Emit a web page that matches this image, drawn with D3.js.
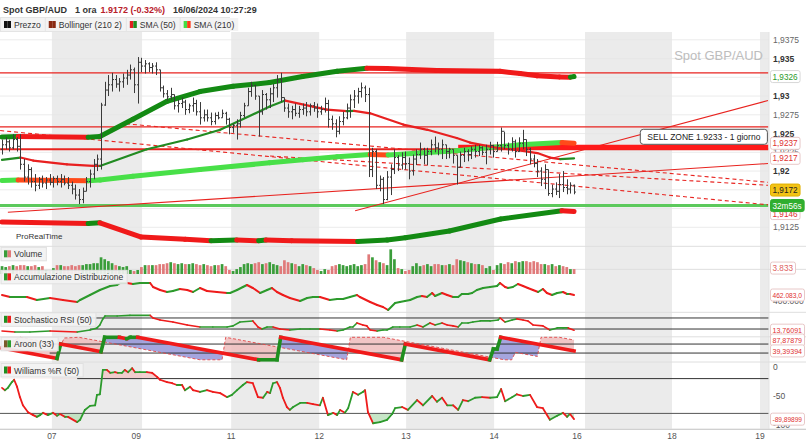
<!DOCTYPE html>
<html><head><meta charset="utf-8">
<script src="https://cdn.jsdelivr.net/npm/d3@7"></script>
<style>body{margin:0;background:#fff}svg{display:block}</style>
</head><body><svg id="c" width="806" height="444"></svg>
<script>
// ---------------- DATA ----------------
const dayLabels = ["07","09","11","12","13","14","16","18","19"];
const dayPos = [13.6,36.6,62.5,86.5,110.2,134.2,156.8,182.7,206.7];
const shadedDays = [[13.6,38.2],[62.5,86.5],[110.2,134.2],[159,182.7],[206.7,209]];
const priceTicks = [1.9125,1.915,1.9175,1.92,1.9225,1.925,1.9275,1.93,1.9325,1.935,1.9375];

const open = [1.9229,1.9235,1.9239,1.9231,1.9242,1.9233,1.9209,1.9192,1.9202,1.9186,
1.9181,1.9189,1.9184,1.9188,1.9185,1.9190,1.9186,1.9189,1.9184,1.9181,
1.9176,1.9168,1.9162,1.9173,1.9186,1.9196,1.9209,1.9216,1.9288,1.9308,
1.9315,1.9322,1.9316,1.9319,1.9324,1.9328,1.9335,1.9315,1.9345,1.9340,
1.9343,1.9338,1.9340,1.9335,1.9311,1.9303,1.9299,1.9302,1.9287,1.9290,
1.9292,1.9282,1.9287,1.9290,1.9279,1.9271,1.9275,1.9271,1.9266,1.9274,
1.9271,1.9277,1.9269,1.9258,1.9261,1.9263,1.9274,1.9287,1.9306,1.9314,
1.9300,1.9279,1.9302,1.9295,1.9303,1.9311,1.9322,1.9298,1.9284,1.9279,
1.9282,1.9277,1.9282,1.9284,1.9279,1.9287,1.9284,1.9279,1.9282,1.9290,
1.9269,1.9263,1.9253,1.9266,1.9271,1.9284,1.9295,1.9300,1.9306,1.9311,
1.9302,1.9202,1.9226,1.9181,1.9189,1.9162,1.9192,1.9202,1.9218,1.9208,
1.9218,1.9210,1.9200,1.9216,1.9222,1.9229,1.9221,1.9226,1.9235,1.9231,
1.9229,1.9235,1.9226,1.9229,1.9221,1.9205,1.9221,1.9226,1.9222,1.9229,
1.9226,1.9231,1.9225,1.9229,1.9234,1.9226,1.9234,1.9253,1.9234,1.9229,
1.9239,1.9226,1.9237,1.9242,1.9229,1.9216,1.9210,1.9200,1.9189,1.9202,
1.9170,1.9176,1.9173,1.9182,1.9178,1.9176,1.9181];
const high = [1.9242,1.9245,1.9242,1.9249,1.9245,1.9249,1.9216,1.9209,1.9205,1.9196,
1.9192,1.9194,1.9192,1.9196,1.9193,1.9194,1.9196,1.9194,1.9192,1.9186,
1.9182,1.9176,1.9178,1.9192,1.9202,1.9216,1.9222,1.9291,1.9319,1.9328,
1.9331,1.9328,1.9324,1.9330,1.9335,1.9342,1.9338,1.9352,1.9351,1.9348,
1.9345,1.9344,1.9345,1.9335,1.9314,1.9308,1.9311,1.9302,1.9295,1.9298,
1.9295,1.9290,1.9298,1.9295,1.9292,1.9282,1.9282,1.9278,1.9278,1.9279,
1.9282,1.9279,1.9271,1.9263,1.9269,1.9279,1.9291,1.9311,1.9319,1.9315,
1.9300,1.9308,1.9304,1.9311,1.9316,1.9328,1.9331,1.9298,1.9290,1.9287,
1.9290,1.9287,1.9290,1.9292,1.9290,1.9292,1.9290,1.9287,1.9298,1.9295,
1.9274,1.9269,1.9273,1.9279,1.9290,1.9302,1.9308,1.9311,1.9318,1.9314,
1.9311,1.9231,1.9229,1.9194,1.9192,1.9200,1.9209,1.9229,1.9221,1.9225,
1.9226,1.9218,1.9222,1.9229,1.9238,1.9231,1.9231,1.9242,1.9246,1.9238,
1.9242,1.9235,1.9231,1.9229,1.9221,1.9226,1.9231,1.9229,1.9233,1.9235,
1.9235,1.9233,1.9235,1.9239,1.9235,1.9239,1.9258,1.9252,1.9238,1.9245,
1.9242,1.9245,1.9255,1.9242,1.9231,1.9222,1.9216,1.9205,1.9209,1.9202,
1.9182,1.9185,1.9196,1.9200,1.9189,1.9185,1.9182];
const low = [1.9222,1.9229,1.9226,1.9229,1.9226,1.9202,1.9186,1.9182,1.9178,1.9173,
1.9176,1.9178,1.9176,1.9181,1.9178,1.9181,1.9178,1.9181,1.9176,1.9169,
1.9162,1.9156,1.9157,1.9173,1.9178,1.9189,1.9200,1.9202,1.9287,1.9300,
1.9306,1.9311,1.9306,1.9311,1.9315,1.9322,1.9304,1.9290,1.9332,1.9330,
1.9332,1.9330,1.9328,1.9306,1.9298,1.9294,1.9295,1.9282,1.9278,1.9284,
1.9275,1.9277,1.9279,1.9274,1.9262,1.9266,1.9266,1.9261,1.9262,1.9269,
1.9271,1.9262,1.9249,1.9251,1.9242,1.9258,1.9271,1.9287,1.9299,1.9295,
1.9246,1.9275,1.9282,1.9284,1.9292,1.9298,1.9292,1.9279,1.9271,1.9269,
1.9273,1.9271,1.9275,1.9273,1.9274,1.9279,1.9271,1.9275,1.9278,1.9258,
1.9255,1.9245,1.9249,1.9261,1.9269,1.9271,1.9284,1.9290,1.9298,1.9292,
1.9192,1.9192,1.9176,1.9173,1.9156,1.9161,1.9168,1.9196,1.9200,1.9202,
1.9202,1.9189,1.9194,1.9208,1.9216,1.9209,1.9208,1.9221,1.9225,1.9221,
1.9216,1.9216,1.9217,1.9210,1.9182,1.9205,1.9212,1.9213,1.9216,1.9218,
1.9220,1.9221,1.9209,1.9222,1.9218,1.9226,1.9226,1.9229,1.9222,1.9226,
1.9218,1.9226,1.9229,1.9220,1.9209,1.9205,1.9192,1.9180,1.9176,1.9167,
1.9165,1.9168,1.9164,1.9172,1.9169,1.9170,1.9169];
const close = [1.9235,1.9239,1.9231,1.9242,1.9233,1.9209,1.9192,1.9202,1.9186,1.9181,
1.9189,1.9184,1.9188,1.9185,1.9190,1.9186,1.9189,1.9184,1.9181,1.9176,
1.9168,1.9162,1.9173,1.9186,1.9196,1.9209,1.9216,1.9288,1.9308,1.9315,
1.9322,1.9316,1.9319,1.9324,1.9328,1.9335,1.9315,1.9345,1.9340,1.9343,
1.9338,1.9340,1.9335,1.9311,1.9303,1.9299,1.9302,1.9287,1.9290,1.9292,
1.9282,1.9287,1.9290,1.9279,1.9271,1.9275,1.9271,1.9266,1.9274,1.9271,
1.9277,1.9269,1.9258,1.9261,1.9263,1.9274,1.9287,1.9306,1.9314,1.9300,
1.9279,1.9302,1.9295,1.9303,1.9311,1.9322,1.9298,1.9284,1.9279,1.9282,
1.9277,1.9282,1.9284,1.9279,1.9287,1.9284,1.9279,1.9282,1.9290,1.9269,
1.9263,1.9253,1.9266,1.9271,1.9284,1.9295,1.9300,1.9306,1.9311,1.9302,
1.9202,1.9226,1.9181,1.9189,1.9162,1.9192,1.9202,1.9218,1.9208,1.9218,
1.9210,1.9200,1.9216,1.9222,1.9229,1.9221,1.9226,1.9235,1.9231,1.9229,
1.9235,1.9226,1.9229,1.9221,1.9205,1.9221,1.9226,1.9222,1.9229,1.9226,
1.9231,1.9225,1.9229,1.9234,1.9226,1.9234,1.9253,1.9234,1.9229,1.9239,
1.9226,1.9237,1.9242,1.9229,1.9216,1.9210,1.9200,1.9189,1.9202,1.9170,
1.9176,1.9173,1.9182,1.9178,1.9176,1.9181,1.9172];

const volume = [6100,5400,6100,6900,6100,6900,6900,6100,6100,6900,5400,6100,
3100,2300,4600,6900,6900,6100,6100,6900,6100,6900,6900,7700,7700,8400,8400,
13000,11500,10000,8400,6900,6100,5400,6100,3100,2300,3100,5400,6900,6900,6900,
6900,7700,7700,8400,9200,8400,7700,8400,7700,7700,8400,7700,6900,7700,6900,6100,6900,6900,7700,
6100,3100,2300,3800,5400,7700,8400,7700,8400,9200,7700,8400,9200,7700,6900,6100,
10700,9200,8400,7700,6100,7700,6900,6100,4600,3100,2300,3800,3100,
6100,6900,7700,6900,6100,6900,7700,6100,6900,7700,
15300,13000,10700,9200,8400,6900,19200,11500,4600,3800,2300,3100,
6100,8400,6100,6900,7700,6100,7700,7700,6900,6900,7700,
6900,11500,10700,10000,9200,8400,7700,7700,6900,4600,6100,3100,
6900,8400,7700,9200,8400,10000,9200,10000,10000,9200,10000,9200,7700,
7700,6900,7700,6100,6900,6100,5400,3800,3833];

// indicator knots [bar index, value]
const bbUpper = [[0,1.92455],[4.4,1.9246],[23.5,1.9245],[26.7,1.9246],[35.7,1.9269],[45,1.9293],[54,1.9306],[63,1.9313],[73,1.9318],[82,1.9326],[91.4,1.9333],[99.5,1.9337],[105,1.93368],[118.6,1.9334],[135.8,1.9333],[141.3,1.9330],[146,1.9327],[152,1.93255],[155,1.93252],[156,1.9326]];
const bbLower = [[0,1.9132],[23.5,1.9130],[26.7,1.9131],[38,1.9112],[50,1.9109],[57,1.9107],[64,1.9108],[70,1.9107],[72,1.9108],[79,1.9107],[97,1.9106],[105,1.9108],[110,1.9111],[122,1.9120],[136,1.9136],[152.7,1.9147],[156,1.9146]];
const sma210 = [[0,1.91875],[4.4,1.9188],[23.5,1.9187],[26.7,1.9188],[35.7,1.9193],[54,1.9202],[73,1.9211],[82,1.9215],[91.4,1.9219],[100.4,1.9222],[105.3,1.92215],[114,1.9224],[124,1.9227],[132.3,1.9231],[141.3,1.9235],[152.7,1.9238],[156,1.9237]];
const sma50 = [[0,1.9215],[5,1.9218],[8.5,1.9214],[17.7,1.9209],[24.8,1.9207],[26.7,1.92068],[39.5,1.9229],[50.5,1.9242],[59.5,1.9255],[73,1.9286],[77.2,1.9294],[84.8,1.9286],[88.6,1.9282],[94,1.9280],[96,1.92802],[100.4,1.9277],[109.4,1.9262],[116,1.9255],[124,1.9244],[127.6,1.9238],[135,1.9231],[142,1.9227],[146,1.9224],[149.4,1.9218],[152.2,1.9216],[156,1.9217]];

const redLevels = [1.9331,1.9259,1.9229];
const greenLevel = 1.9154;
const sellZone = {price:1.9233, from:124.4, label:"SELL ZONE 1.9233 - 1 giorno"};
const trendSolid = [[1.6,1.9145,208.9,1.9210],[96.3,1.9147,208.9,1.9294]];
const trendDashed = [[33.8,1.9263,208.9,1.9185],[-0.5,1.9254,208.9,1.9155],[73.1,1.9220,208.9,1.9181]];

const adLine = [[0,462100],[2.2,440300],[6.8,440300],[9.5,407600],[13.1,429400],[16.6,407600],[20.5,385800],[21.3,407600],[24,462100],[26.7,516600],[29.5,560200],[31.4,571100],[32.2,592900],[34.1,592900],[35.7,582000],[37.6,592900],[40.4,592900],[41.2,549300],[43.1,516600],[45,494800],[46.6,505700],[48.5,527500],[50.5,516600],[52.1,494800],[54,538400],[55.9,505700],[58.6,494800],[61.4,483900],[62.2,483900],[64.1,516600],[65.7,549300],[66.8,571100],[68.4,538400],[70.4,483900],[72.3,516600],[73.6,538400],[75,494800],[76.6,462100],[78.5,429400],[81.3,396700],[83.2,429400],[84.8,440300],[86.7,440300],[89.4,407600],[91.4,418500],[93,418500],[94.9,440300],[96.8,462100],[97.6,440300],[100.4,385800],[102.3,353100],[103.9,331300],[105.3,298600],[107.2,374900],[108.5,385800],[109.9,396700],[111.3,407600],[113.2,440300],[114.5,451200],[115.9,440300],[117.3,483900],[118.1,451200],[120,483900],[121.4,462100],[123,440300],[124.4,440300],[125.4,473000],[127.1,473000],[128.2,483900],[129.5,516600],[131.2,538400],[133.1,549300],[135,560200],[135.8,592900],[137.2,549300],[138,538400],[139.3,549300],[140.7,582000],[142.1,560200],[143.4,538400],[144.8,516600],[146.2,494800],[147.5,527500],[148.6,483900],[150,462100],[151.4,483900],[153,494800],[154.1,473000],[154.9,473000],[156,462083]];
const stochRsi = [[0,9],[3.5,4],[7.6,4],[13.1,9],[20.5,4],[24,15],[25.9,26],[26.7,42],[27.5,75],[28.1,91],[31.4,91],[34.9,94],[40.4,94],[41.2,80],[43.1,69],[46.6,58],[50.5,42],[54,31],[57.5,31],[61.4,31],[63,37],[64.9,58],[68.4,64],[69.8,31],[70.9,20],[72.3,31],[73.9,31],[75.8,20],[78.5,15],[81.3,20],[84,20],[86.7,20],[89.4,15],[91.4,9],[93,15],[94.9,31],[95.7,31],[96.8,53],[98.4,42],[99.5,37],[100.4,15],[102.3,9],[103.9,15],[105,15],[106.6,31],[108.5,31],[111.3,31],[113.2,42],[114.8,31],[116.7,53],[118.1,42],[120,53],[121.4,42],[123,37],[124.4,31],[125.4,53],[127.1,53],[128.4,58],[130.4,64],[133.1,64],[135.3,69],[135.8,80],[137.2,58],[139.1,69],[140.4,75],[142.1,69],[143.4,64],[144.8,42],[147.5,37],[149.4,15],[151.4,26],[153,26],[154.4,26],[156,13.76091]];
const aroonUp = [[0,52],[15,6],[16,70],[27,36],[28,100],[32,100],[34,94],[35,100],[37,100],[70,0],[75,0],[76,100],[109,0],[110,70],[133,0],[134,48],[135,48],[136,100],[156,39.39394]];
const aroonDown = [[0,60],[5,100],[15,70],[16,64],[17,97],[21,100],[54,0],[60,0],[61,100],[94,0],[95,100],[104,100],[137,0],[139,0],[140,33],[146,15],[147,100],[152,100],[156,87.87879]];
const williams = [[0,-36],[0.8,-40],[1.6,-36],[2.7,-26],[3.3,-22],[4.1,-34],[4.9,-52],[5.7,-66],[7.1,-78],[8.5,-83],[9.5,-86],[10.4,-83],[11.2,-79],[12.5,-83],[13.9,-79],[15,-84],[15.8,-81],[17.2,-86],[18,-86],[20.5,-95],[21.3,-91],[22.6,-74],[24,-67],[25.4,-66],[25.9,-48],[26.7,-47],[27.5,-5],[28.6,-5],[29.5,-10],[30.8,-9],[31.6,-10],[32.7,-10],[33.5,-5],[34.4,-9],[35.5,-2],[36.3,-9],[37.6,-9],[39.5,-9],[40.9,-10],[42.3,-17],[43.1,-22],[45,-26],[46.4,-28],[47.7,-31],[49.1,-31],[49.9,-40],[51.3,-34],[52.1,-40],[54,-43],[55.9,-40],[57.5,-43],[59.5,-45],[61.4,-52],[62.7,-48],[64.1,-40],[65.7,-31],[66.8,-26],[68.4,-28],[69.8,-52],[71.2,-53],[72.3,-43],[73.1,-45],[73.9,-28],[75,-26],[75.8,-36],[76.6,-53],[77.7,-69],[78.5,-74],[79.4,-69],[81.3,-62],[83.2,-62],[84.8,-64],[86.7,-66],[87.5,-53],[88.9,-83],[90.3,-79],[91.4,-83],[92.2,-74],[93.5,-79],[94.4,-71],[95.7,-43],[97.1,-48],[98.4,-43],[99,-40],[99.8,-78],[101.2,-97],[103.1,-95],[105,-91],[106.4,-81],[107.2,-71],[109.1,-69],[110.7,-74],[113.2,-57],[114.8,-66],[117.3,-50],[118.6,-60],[120,-53],[121.4,-66],[123,-66],[124.4,-74],[125.7,-57],[127.1,-59],[129,-53],[130.9,-52],[133.1,-53],[135,-52],[136.1,-38],[137.2,-59],[139.1,-52],[140.4,-47],[142.1,-50],[144,-48],[145.9,-69],[147.5,-71],[149.4,-91],[151.4,-84],[153,-79],[154.1,-86],[154.9,-81],[156,-89.89899]];

// ---------------- DRAW ----------------
const FONT = "Arial, 'Liberation Sans', Helvetica, sans-serif";
const svg = d3.select("#c").style("font-family", FONT);
const x = d3.scaleLinear().domain([0,209]).range([2,768.4]);
const XR = x(209);
const yP = d3.scaleLinear().domain([1.9125,1.9375]).range([227.3,39.8]);
const yV = d3.scaleLinear().domain([0,20000]).range([274,248.3]);
const yAD = d3.scaleLinear().domain([400000,462083]).range([300.7,295]);
const yS = d3.scaleLinear().domain([0,100]).range([332.7,314.3]);
const yA = d3.scaleLinear().domain([0,100]).range([359.8,337.3]);
const yW = d3.scaleLinear().domain([-100,0]).range([425,367]);

svg.append("rect").attr("width",806).attr("height",444).attr("fill","#fff");

// day shading
svg.append("g").selectAll("rect").data(shadedDays).join("rect")
  .attr("x",d=>x(d[0])).attr("width",d=>Math.min(x(d[1]),XR)-x(d[0]))
  .attr("y",32).attr("height",397).attr("fill","#ebebeb");

// price grid
svg.append("g").selectAll("line").data(priceTicks).join("line")
  .attr("x1",0).attr("x2",XR).attr("y1",d=>yP(d)).attr("y2",d=>yP(d))
  .attr("stroke","#e6e6e6").attr("stroke-width",0.8);

// panel separators
svg.append("g").selectAll("line").data([yV.range()[1]-2, yAD(600000)-13, yS(100)-2, yA(100)-0.5, yW(0)-5, yW(-100)+4]).join("line")
  .attr("x1",0).attr("x2",806).attr("y1",d=>d).attr("y2",d=>d).attr("stroke","#dedede");
svg.append("line").attr("x1",XR+0.5).attr("x2",XR+0.5).attr("y1",32).attr("y2",429).attr("stroke","#dcdcdc");

function segLine(g, pts, ys, w, up, dn, cap){
  for(let k=1;k<pts.length;k++){
    const a=pts[k-1], b=pts[k];
    g.append("line").attr("x1",x(a[0])).attr("y1",ys(a[1])).attr("x2",x(b[0])).attr("y2",ys(b[1]))
      .attr("stroke", b[1]>=a[1]?up:dn).attr("stroke-width",w).attr("stroke-linecap",cap||"round");
  }
}

// ---- main panel ----
svg.append("clipPath").attr("id","mainClip").append("rect").attr("x",0).attr("y",32).attr("width",XR).attr("height",214);
const gm = svg.append("g").attr("clip-path","url(#mainClip)");

redLevels.forEach((p,i)=>gm.append("line").attr("x1",0).attr("x2",XR).attr("y1",yP(p)).attr("y2",yP(p))
  .attr("stroke","#e8231f").attr("stroke-width",i===2?2:1.3));
gm.append("line").attr("x1",0).attr("x2",XR).attr("y1",yP(greenLevel)).attr("y2",yP(greenLevel))
  .attr("stroke","#5cc95c").attr("stroke-width",3);
trendSolid.forEach(t=>gm.append("line").attr("x1",x(t[0])).attr("y1",yP(t[1])).attr("x2",x(t[2])).attr("y2",yP(t[3]))
  .attr("stroke","#e8231f").attr("stroke-width",1.1));
trendDashed.forEach(t=>gm.append("line").attr("x1",x(t[0])).attr("y1",yP(t[1])).attr("x2",x(t[2])).attr("y2",yP(t[3]))
  .attr("stroke","#e8231f").attr("stroke-width",1.1).attr("stroke-dasharray","4,3"));

segLine(gm, bbUpper, yP, 5, "#138a13", "#f01a1a");
segLine(gm, bbLower, yP, 5, "#138a13", "#f01a1a");
gm.append("line").attr("x1",x(sellZone.from)).attr("x2",XR).attr("y1",yP(sellZone.price)+1).attr("y2",yP(sellZone.price)+1)
  .attr("stroke","#ff1a1a").attr("stroke-width",5);
segLine(gm, sma210, yP, 5, "#48e048", "#ff4a1a");
segLine(gm, sma50, yP, 2.2, "#228b22", "#e82020");

// OHLC bars
const bars = gm.append("g").attr("stroke","#3a3a3a").attr("stroke-width",1);
open.forEach((o,i)=>{
  const cx = Math.round(x(i))+0.5;
  bars.append("line").attr("x1",cx).attr("x2",cx).attr("y1",yP(high[i])).attr("y2",yP(low[i]));
  bars.append("line").attr("x1",cx-1.5).attr("x2",cx).attr("y1",yP(o)).attr("y2",yP(o));
  bars.append("line").attr("x1",cx).attr("x2",cx+1.5).attr("y1",yP(close[i])).attr("y2",yP(close[i]));
});

// sell zone label
const szG = svg.append("g");
const szR = szG.append("rect");
const szT = szG.append("text").attr("font-size",8.5).attr("fill","#222").text(sellZone.label);
const szW = szT.node().getComputedTextLength()+14;
const szY = yP(sellZone.price)-17;
szR.attr("x",XR-szW-1).attr("y",szY).attr("width",szW).attr("height",15).attr("rx",3).attr("fill","#fff").attr("stroke","#555");
szT.attr("x",XR-szW+6).attr("y",szY+10.5);

// watermark
svg.append("text").attr("x",763).attr("y",60).attr("text-anchor","end").attr("font-size",13).attr("fill","#bdbdbd").text("Spot GBP/AUD");
svg.append("text").attr("x",16).attr("y",239).attr("font-size",8).attr("fill","#333").text("ProRealTime");

// ---- volume ----
const gv = svg.append("g");
volume.forEach((v,i)=>{
  gv.append("rect").attr("x",x(i)-1.3).attr("width",2.7).attr("y",yV(v)).attr("height",yV(0)-yV(v))
    .attr("fill", close[i]>=open[i] ? "#3a9d3a" : "#e07a7a");
});

// ---- accumulation / distribution ----
segLine(svg.append("g"), adLine, yAD, 2, "#2c9a2c", "#ee1c1c");

// ---- stochastic RSI ----
[80,20].forEach(l=>svg.append("line").attr("x1",x(24)).attr("x2",XR).attr("y1",yS(l)).attr("y2",yS(l)).attr("stroke","#333").attr("stroke-width",1));
segLine(svg.append("g"), stochRsi, yS, 1.6, "#2c9a2c", "#ee1c1c");

// ---- Aroon ----
const ga = svg.append("g");
const upPts = aroonUp.map(d=>[x(d[0]),yA(d[1])]);
const dnPts = aroonDown.map(d=>[x(d[0]),yA(d[1])]);
const aTop = yA(100)-1, aBot = yA(0)+1;
const x0=x(0), xN=x(156);
const poly = pts => "M"+pts.map(p=>p.join(",")).join("L")+"Z";
const defs = svg.append("defs");
defs.append("clipPath").attr("id","belowDown").append("path").attr("d",poly([...dnPts,[xN,aBot+5],[x0,aBot+5]]));
defs.append("clipPath").attr("id","belowUp").append("path").attr("d",poly([...upPts,[xN,aBot+5],[x0,aBot+5]]));
ga.append("path").attr("d",poly([[x0,aTop-5],...upPts,[xN,aTop-5]])).attr("clip-path","url(#belowDown)").attr("fill","#eebcbc").attr("opacity",0.85);
ga.append("path").attr("d",poly([[x0,aTop-5],...dnPts,[xN,aTop-5]])).attr("clip-path","url(#belowUp)").attr("fill","#8f8fd6").attr("opacity",0.8);
[70,30].forEach(l=>ga.append("line").attr("x1",x(13)).attr("x2",XR).attr("y1",yA(l)).attr("y2",yA(l)).attr("stroke","#333").attr("stroke-width",1));
ga.append("path").attr("d",d3.line().x(d=>x(d[0])).y(d=>yA(d[1]))(aroonDown)).attr("fill","none")
  .attr("stroke","#e04848").attr("stroke-width",0.9).attr("stroke-dasharray","3,2");
segLine(ga, aroonUp, yA, 3.6, "#1f8f1f", "#f01a1a", "square");

// ---- Williams %R ----
const gw = svg.append("g");
defs.append("clipPath").attr("id","wrTop").append("rect").attr("x",0).attr("y",yW(0)-5).attr("width",XR).attr("height",yW(-20)-yW(0)+5);
defs.append("clipPath").attr("id","wrBot").append("rect").attr("x",0).attr("y",yW(-80)).attr("width",XR).attr("height",yW(-100)-yW(-80)+5);
gw.append("path").attr("d",d3.area().x(d=>x(d[0])).y0(yW(-20)).y1(d=>yW(d[1]))(williams)).attr("clip-path","url(#wrTop)").attr("fill","#f2c4c4").attr("opacity",0.8);
gw.append("path").attr("d",d3.area().x(d=>x(d[0])).y0(yW(-80)).y1(d=>yW(d[1]))(williams)).attr("clip-path","url(#wrBot)").attr("fill","#b9e0b9").attr("opacity",0.8);
gw.append("line").attr("x1",x(20.5)).attr("x2",XR).attr("y1",yW(-20)).attr("y2",yW(-20)).attr("stroke","#333");
gw.append("line").attr("x1",0).attr("x2",XR).attr("y1",yW(-80)).attr("y2",yW(-80)).attr("stroke","#555");
segLine(gw, williams, yW, 1.8, "#2c9a2c", "#ee1c1c");

// ---- x axis ----
svg.append("line").attr("x1",0).attr("x2",806).attr("y1",429.5).attr("y2",429.5).attr("stroke","#d0d0d0");
svg.append("g").selectAll("text").data(dayLabels).join("text")
  .attr("x",(d,i)=>x(dayPos[i])).attr("y",439).attr("text-anchor","middle").attr("font-size",8.5).attr("fill","#555").text(d=>d);

// ---- right axis ----
const badgeYs = [yP(bbUpper[bbUpper.length-1][1]), yP(close[close.length-1])-2, yP(greenLevel)];
const fmt = v => v.toFixed(4).replace(/0+$/,"").replace(".",",");
const isMajor = d => Math.abs(d*200-Math.round(d*200))<1e-6;
svg.append("g").selectAll("text").data(priceTicks.filter(t=>badgeYs.every(b=>Math.abs(yP(t)-b)>4))).join("text")
  .attr("x",773).attr("y",d=>yP(d)+3).attr("font-size",8.5)
  .attr("font-weight",d=>isMajor(d)?"bold":"normal")
  .attr("fill",d=>isMajor(d)?"#333":"#666").text(fmt);
[[0,"0"],[-50,"-50"],[-100,"-100"]].forEach(t=>svg.append("text").attr("x",773).attr("y",yW(t[0])+3).attr("font-size",8.5).attr("fill","#555").text(t[1]));
svg.append("text").attr("x",773).attr("y",yAD(400000)+3).attr("font-size",8.5).attr("fill","#555").text("400.000");

function badge(yc, txt, fg, bg, stroke){
  const g = svg.append("g");
  const r = g.append("rect");
  const t = g.append("text").attr("x",772.5).attr("y",yc+3).attr("font-size",8.2).attr("fill",fg).text(txt);
  let tw = t.node().getComputedTextLength();
  const maxW = 29.5;
  if (tw > maxW) { t.attr("font-size", 8.2*maxW/tw); tw = t.node().getComputedTextLength(); }
  r.attr("x",770.5).attr("y",yc-6).attr("width",Math.min(tw+4.5, 806-771)).attr("height",12).attr("rx",2).attr("fill",bg).attr("stroke",stroke);
}
const it = v => v.toFixed(4).replace(".",",");
badge(yP(bbUpper[bbUpper.length-1][1]), it(bbUpper[bbUpper.length-1][1]), "#2a9a2a", "#fff", "#d8d8d8");
badge(yP(sma210[sma210.length-1][1]), it(sma210[sma210.length-1][1]), "#e03030", "#fff", "#e8c8c8");
badge(yP(sma50[sma50.length-1][1]), it(sma50[sma50.length-1][1]), "#e03030", "#fff", "#e8c8c8");
badge(yP(bbLower[bbLower.length-1][1])+2, it(bbLower[bbLower.length-1][1]), "#e03030", "#fff", "#e8c8c8");
badge(yP(close[close.length-1])-2, it(close[close.length-1]), "#222", "#f3c316", "#e0b000");
badge(yP(greenLevel), "32m56s", "#fff", "#2fae2f", "#2fae2f");
badge(yV(volume[volume.length-1])-1, d3.format(",")(volume[volume.length-1]).replace(/,/g,"."), "#e06060", "#fff", "#e8c8c8");
badge(yAD(adLine[adLine.length-1][1]), "462.083,0", "#e03030", "#fff", "#e8c8c8");
badge(yS(stochRsi[stochRsi.length-1][1]), stochRsi[stochRsi.length-1][1].toFixed(5).replace(".",","), "#e03030", "#fff", "#e8c8c8");
badge(yA(aroonDown[aroonDown.length-1][1]), aroonDown[aroonDown.length-1][1].toFixed(5).replace(".",","), "#e03030", "#fff", "#e8c8c8");
badge(yA(aroonUp[aroonUp.length-1][1]), aroonUp[aroonUp.length-1][1].toFixed(5).replace(".",","), "#e03030", "#fff", "#e8c8c8");
badge(yW(williams[williams.length-1][1]), williams[williams.length-1][1].toFixed(5).replace(".",","), "#e03030", "#fff", "#e8c8c8");

// ---- header ----
const hd = svg.append("text").attr("x",3).attr("y",13).attr("font-size",9).attr("font-weight","bold").attr("fill","#333");
hd.append("tspan").text("Spot GBP/AUD");
hd.append("tspan").attr("dx",8).text("1 ora");
hd.append("tspan").attr("dx",4).attr("fill","#b8202a").text("1.9172 (-0.32%)");
hd.append("tspan").attr("dx",8).text("16/06/2024 10:27:29");

// legend strip
svg.append("rect").attr("x",0).attr("y",17).attr("width",230).attr("height",15).attr("fill","#e4e4e4");
const legendItems = [["Prezzo","#111","#111"],["Bollinger (210 2)","#8a2a12","#8a2a12"],["SMA (50)","#e02020","#1f8f1f"],["SMA (210)","#44dd44","#ff3a1a"]];
let lx = 1;
legendItems.forEach(it2=>{
  const g = svg.append("g");
  const r = g.append("rect").attr("y",18).attr("height",13).attr("fill","#f3f3f3");
  g.append("rect").attr("x",lx+3).attr("y",21).attr("width",3.5).attr("height",7).attr("fill",it2[1]);
  g.append("rect").attr("x",lx+6.5).attr("y",21).attr("width",3.5).attr("height",7).attr("fill",it2[2]);
  const t = g.append("text").attr("x",lx+13).attr("y",28).attr("font-size",8.6).attr("fill","#333").text(it2[0]);
  const w = t.node().getComputedTextLength()+17;
  r.attr("x",lx).attr("width",w);
  lx += w+1;
});

// panel labels
const panelLabels = [["Volume",yV(20000)-1,"#3a9d3a","#e07a7a"],["Accumulazione Distribuzione",yAD(600000)-12,"#2c9a2c","#ee1c1c"],
  ["Stochastico RSI (50)",yS(100)-1.5,"#1f8f1f","#ee1c1c"],["Aroon (33)",yA(100),"#7a5a2a","#2c9a2c"],["Williams %R (50)",yW(0)-3.5,"#1f8f1f","#ee1c1c"]];
panelLabels.forEach(p=>{
  const g = svg.append("g");
  const r = g.append("rect").attr("x",1).attr("y",p[1]).attr("height",13.5).attr("fill","#f2f2f2").attr("fill-opacity",0.92).attr("stroke","#e0e0e0");
  g.append("rect").attr("x",4).attr("y",p[1]+3).attr("width",3.5).attr("height",7).attr("fill",p[2]);
  g.append("rect").attr("x",7.5).attr("y",p[1]+3).attr("width",3.5).attr("height",7).attr("fill",p[3]);
  const t = g.append("text").attr("x",14).attr("y",p[1]+10).attr("font-size",8.5).attr("fill","#333").text(p[0]);
  r.attr("width",t.node().getComputedTextLength()+17);
});
</script></body></html>
